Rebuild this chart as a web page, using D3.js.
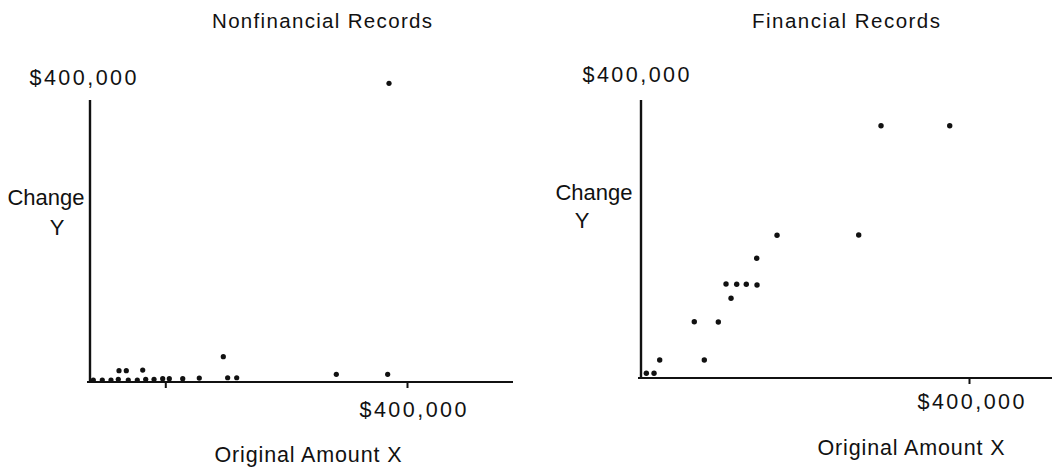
<!DOCTYPE html>
<html>
<head>
<meta charset="utf-8">
<script src="https://cdn.jsdelivr.net/npm/d3@7"></script>
<style>
  html, body { margin: 0; padding: 0; background: #fff; }
  svg text { font-family: "Liberation Sans", Arial, Helvetica, sans-serif; fill: #111; }
</style>
</head>
<body>
<svg id="chart" width="1062" height="469"></svg>
<script>
// ---- Data (in dollars) ----
const panelTitles = ["Nonfinancial Records", "Financial Records"];
const axisMaxLabel = "$400,000";
const xAxisTitle = "Original Amount X";
const yAxisTitle = ["Change", "Y"];

// Nonfinancial records: original amount X, change Y
const nonfinX = [4200, 15500, 26500, 35700, 36600, 45800, 48300, 59700, 66500, 70300,
                 80800, 91700, 100100, 117000, 137900, 168200, 173700, 185100, 310800, 375600, 377300];
const nonfinY = [2600, 2600, 2600, 3500, 14800, 14800, 2600, 2600, 15700, 3500,
                 3500, 4300, 4300, 4300, 5200, 33200, 5600, 5600, 10100, 10100, 391700];

// Financial records: original amount X, change Y
const finX = [6500, 15900, 22800, 65000, 77200, 94300, 103700, 109800, 116700, 128400,
              141500, 141100, 165900, 265500, 292700, 376500];
const finY = [6200, 6200, 23600, 73800, 23600, 73400, 123200, 104500, 122900, 122900,
              122000, 157000, 187200, 187500, 330900, 330900];

// Tick positions on the X axes (only $400,000 is labelled)
const nonfinXTicks = [95000, 400000];
const finXTicks = [400000];

// ---- Layout ----
const svg = d3.select("#chart");

const panels = [
  {
    title: panelTitles[0], xs: nonfinX, ys: nonfinY, ticks: nonfinXTicks,
    xRange: [90, 407], yRange: [382, 77], axisLeft: 90, axisTop: 100, xAxisEnd: 513, xAxisStart: 87,
    titlePos: [322, 28], titleLen: 220,
    topLabel: [83, 85], botLabel: [413, 417], xTitle: [308, 462],
    change: [46, 205], yLetter: [57, 235], r: 2.6
  },
  {
    title: panelTitles[1], xs: finX, ys: finY, ticks: finXTicks,
    xRange: [641, 969], yRange: [378, 73], axisLeft: 641, axisTop: 100, xAxisEnd: 1052, xAxisStart: 638,
    titlePos: [846, 28], titleLen: 188,
    topLabel: [636, 82], botLabel: [971, 409], xTitle: [911, 455],
    change: [594, 200], yLetter: [582, 228], r: 2.7
  }
];

panels.forEach(p => {
  const x = d3.scaleLinear().domain([0, 400000]).range(p.xRange);
  const y = d3.scaleLinear().domain([0, 400000]).range(p.yRange);
  const g = svg.append("g");

  // Title
  g.append("text")
    .attr("x", p.titlePos[0]).attr("y", p.titlePos[1])
    .attr("text-anchor", "middle")
    .attr("font-size", 20.5)
    .attr("textLength", p.titleLen).attr("lengthAdjust", "spacing")
    .text(p.title);

  // Y axis line
  g.append("line")
    .attr("x1", p.axisLeft).attr("x2", p.axisLeft)
    .attr("y1", p.axisTop).attr("y2", y(0) + 1)
    .attr("stroke", "#111").attr("stroke-width", 2.4);

  // X axis with tick marks
  const xAxis = d3.axisBottom(x).tickValues(p.ticks).tickSize(6).tickFormat("");
  const ax = g.append("g").attr("transform", `translate(0,${y(0)})`).call(xAxis);
  ax.select(".domain").remove();
  ax.selectAll(".tick line").attr("stroke", "#111").attr("stroke-width", 2);
  g.append("line")
    .attr("x1", p.xAxisStart).attr("x2", p.xAxisEnd)
    .attr("y1", y(0)).attr("y2", y(0))
    .attr("stroke", "#111").attr("stroke-width", 2.2);

  // Axis labels
  g.append("text")
    .attr("x", p.topLabel[0]).attr("y", p.topLabel[1])
    .attr("text-anchor", "middle").attr("font-size", 21.5)
    .attr("textLength", 107).attr("lengthAdjust", "spacing")
    .text(axisMaxLabel);
  g.append("text")
    .attr("x", p.botLabel[0]).attr("y", p.botLabel[1])
    .attr("text-anchor", "middle").attr("font-size", 21.5)
    .attr("textLength", 107).attr("lengthAdjust", "spacing")
    .text(axisMaxLabel);
  g.append("text")
    .attr("x", p.xTitle[0]).attr("y", p.xTitle[1])
    .attr("text-anchor", "middle").attr("font-size", 21.5)
    .attr("textLength", 187).attr("lengthAdjust", "spacing")
    .text(xAxisTitle);
  g.append("text")
    .attr("x", p.change[0]).attr("y", p.change[1])
    .attr("text-anchor", "middle").attr("font-size", 22)
    .text(yAxisTitle[0]);
  g.append("text")
    .attr("x", p.yLetter[0]).attr("y", p.yLetter[1])
    .attr("text-anchor", "middle").attr("font-size", 22)
    .text(yAxisTitle[1]);

  // Points
  g.selectAll("circle.pt")
    .data(p.xs.map((v, i) => [v, p.ys[i]]))
    .join("circle")
    .attr("class", "pt")
    .attr("cx", d => x(d[0]))
    .attr("cy", d => y(d[1]))
    .attr("r", p.r)
    .attr("fill", "#111");
});
</script>
</body>
</html>
